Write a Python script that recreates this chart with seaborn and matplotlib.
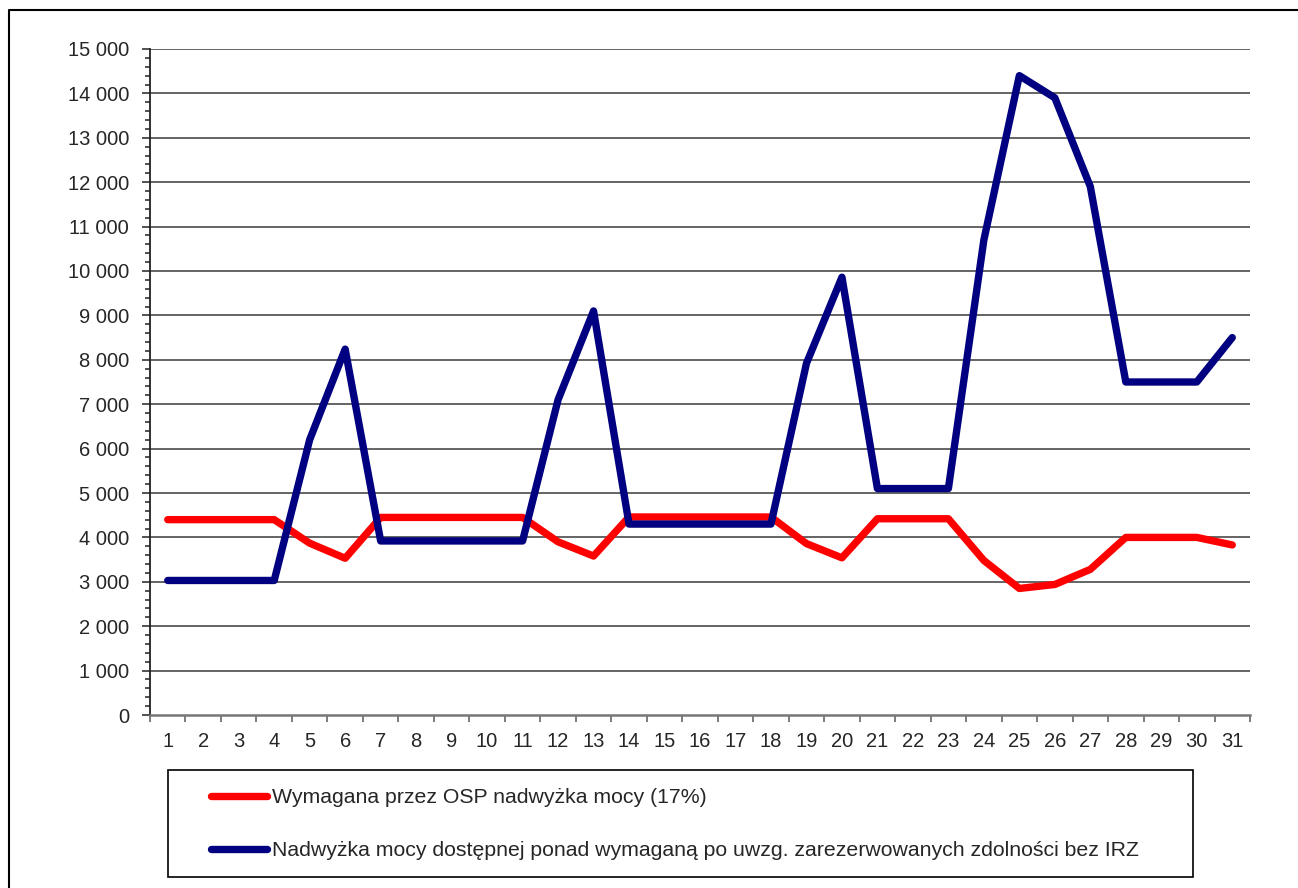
import matplotlib
matplotlib.use("Agg")

import numpy as np
import pandas as pd
import matplotlib.pyplot as plt
import seaborn as sns
from matplotlib.lines import Line2D
from matplotlib.patches import Rectangle
from matplotlib.ticker import FuncFormatter, MultipleLocator

# Days of the month
days = list(range(1, 32))

# Wymagana przez OSP nadwyzka mocy (17%)
required = [4400, 4400, 4400, 4400, 3870, 3530, 4450, 4450, 4450, 4450, 4450,
            3900, 3580, 4460, 4460, 4460, 4460, 4460, 3860, 3540, 4420, 4420,
            4420, 3480, 2850, 2940, 3280, 4000, 4000, 4000, 3830]

# Nadwyzka mocy dostepnej ponad wymagana
available = [3030, 3030, 3030, 3030, 6200, 8240, 3920, 3920, 3920, 3920, 3920,
             7100, 9100, 4300, 4300, 4300, 4300, 4300, 7920, 9860, 5100, 5100,
             5100, 10700, 14400, 13900, 11900, 7500, 7500, 7500, 8500]

label_red = "Wymagana przez OSP nadwyżka mocy (17%)"
label_blue = "Nadwyżka mocy dostępnej ponad wymaganą po uwzg. zarezerwowanych zdolności bez IRZ"

df = pd.DataFrame({
    "day": days * 2,
    "value": required + available,
    "series": [label_red] * len(days) + [label_blue] * len(days),
})

sns.set_style("white")
plt.rcParams["font.family"] = ["Liberation Sans", "DejaVu Sans"]

W, H = 1298, 888
fig = plt.figure(figsize=(W / 100, H / 100), dpi=100)
ax = fig.add_axes([150 / W, 1 - 715 / H, 1100 / W, 666 / H])

colors = {label_red: "#ff0000", label_blue: "#000080"}
sns.lineplot(data=df, x="day", y="value", hue="series", palette=colors,
             linewidth=5.3, legend=False, ax=ax, zorder=3,
             solid_capstyle="round", solid_joinstyle="round")

ax.set_xlim(0.5, 31.5)
ax.set_ylim(0, 15000)
ax.set_xlabel("")
ax.set_ylabel("")

# y axis
ax.yaxis.set_major_locator(MultipleLocator(1000))
ax.yaxis.set_minor_locator(MultipleLocator(200))
ax.yaxis.set_major_formatter(FuncFormatter(lambda v, p: f"{int(v):,}".replace(",", " ")))
ax.tick_params(axis="y", which="major", length=6, width=1.2, color="#333333",
               labelsize=14.5, pad=9, direction="out", left=True)
ax.tick_params(axis="y", which="minor", length=3.5, width=1.2, color="#333333",
               direction="out", left=True)

# x axis: ticks between categories, labels at centres
ax.set_xticks(np.arange(0.5, 32, 1))
ax.set_xticklabels([])
ax.set_xticks(days, minor=True)
ax.set_xticklabels([str(d) for d in days], minor=True)
ax.tick_params(axis="x", which="major", length=5, width=1.2, color="#666666",
               direction="out", bottom=True)
ax.tick_params(axis="x", which="minor", length=0, labelsize=14.5, pad=12)

ax.grid(False)
for v in range(1000, 15001, 1000):
    ax.axhline(v, color="#3a3a3a", linewidth=1.1, zorder=1)

for s in ["top", "right"]:
    ax.spines[s].set_visible(False)
ax.spines["left"].set_color("#222222")
ax.spines["left"].set_linewidth(1.3)
ax.spines["bottom"].set_color("#777777")
ax.spines["bottom"].set_linewidth(1.8)

# outer chart border
fig.add_artist(Line2D([9 / W, 9 / W, 1.0], [0.0, 1 - 10 / H, 1 - 10 / H],
                      transform=fig.transFigure, color="black", linewidth=1.5))

# legend box
fig.add_artist(Rectangle((168 / W, 1 - 877 / H), 1025 / W, 107 / H,
                         transform=fig.transFigure, fill=False,
                         edgecolor="black", linewidth=1.2))

handles = [Line2D([], [], color=colors[label_red], linewidth=5.3, solid_capstyle="round"),
           Line2D([], [], color=colors[label_blue], linewidth=5.3, solid_capstyle="round")]
fig.legend(handles, [label_red, label_blue], loc="upper left",
           bbox_to_anchor=(211 / W, 1 - 788 / H), frameon=False,
           fontsize=15.3, borderpad=0, borderaxespad=0,
           handlelength=2.65, handletextpad=0.2, labelspacing=1.6)

fig.savefig("out.png", dpi=100)
